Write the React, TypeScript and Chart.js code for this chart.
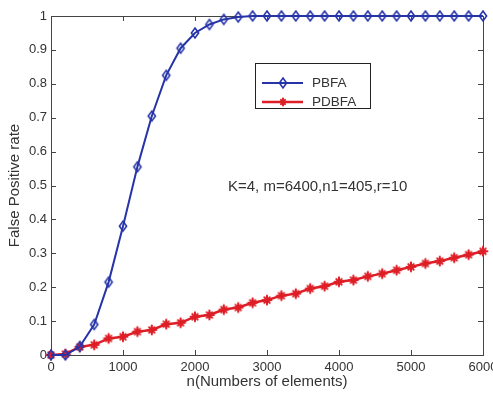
import React, { useEffect, useRef } from 'react';
import { Chart, registerables } from 'chart.js';

Chart.register(...registerables);

const nValues = [
  0, 200, 400, 600, 800, 1000, 1200, 1400, 1600, 1800, 2000, 2200, 2400, 2600, 2800, 3000,
  3200, 3400, 3600, 3800, 4000, 4200, 4400, 4600, 4800, 5000, 5200, 5400, 5600, 5800, 6000,
];
const pbfa = [
  0, 0, 0.025, 0.09, 0.215, 0.38, 0.555, 0.705, 0.825, 0.905, 0.95, 0.975, 0.99, 0.997, 1, 1,
  1, 1, 1, 1, 1, 1, 1, 1, 1, 1, 1, 1, 1, 1, 1,
];
const pdbfa = [
  0, 0.003, 0.024, 0.03, 0.049, 0.054, 0.069, 0.074, 0.091, 0.095, 0.113, 0.118, 0.134, 0.14,
  0.154, 0.162, 0.175, 0.181, 0.196, 0.203, 0.216, 0.221, 0.232, 0.24, 0.25, 0.26, 0.27, 0.277,
  0.287, 0.296, 0.306,
];
const xTicks = [0, 1000, 2000, 3000, 4000, 5000, 6000];
const yTicks = [0, 0.1, 0.2, 0.3, 0.4, 0.5, 0.6, 0.7, 0.8, 0.9, 1];
const seriesNames = ['PBFA', 'PDBFA'];
const xTitle = 'n(Numbers of elements)';
const yTitle = 'False Positive rate';
const annotationText = 'K=4, m=6400,n1=405,r=10';

const BLUE = 'rgb(38,52,168)';
const RED = 'rgb(222,30,38)';
const AXIS = '#444';
const TEXT = '#333';
const FONT = '"Liberation Sans", Arial, sans-serif';

function drawDiamond(ctx: CanvasRenderingContext2D, x: number, y: number, color: string) {
  ctx.save();
  ctx.strokeStyle = color;
  ctx.lineWidth = 1.6;
  ctx.beginPath();
  ctx.moveTo(x, y - 5);
  ctx.lineTo(x + 3.6, y);
  ctx.lineTo(x, y + 5);
  ctx.lineTo(x - 3.6, y);
  ctx.closePath();
  ctx.stroke();
  ctx.restore();
}

function drawStar(ctx: CanvasRenderingContext2D, x: number, y: number, r: number, color: string) {
  ctx.save();
  ctx.strokeStyle = color;
  ctx.lineWidth = 2;
  ctx.lineCap = 'round';
  ctx.beginPath();
  ctx.moveTo(x - r, y);
  ctx.lineTo(x + r, y);
  ctx.moveTo(x, y - r);
  ctx.lineTo(x, y + r);
  const d = r * 0.6;
  ctx.moveTo(x - d, y - d);
  ctx.lineTo(x + d, y + d);
  ctx.moveTo(x - d, y + d);
  ctx.lineTo(x + d, y - d);
  ctx.stroke();
  ctx.restore();
}

function makeMarker(kind: 'diamond' | 'star', color: string): HTMLCanvasElement {
  const c = document.createElement('canvas');
  c.width = 14;
  c.height = 14;
  const g = c.getContext('2d') as CanvasRenderingContext2D;
  if (kind === 'diamond') drawDiamond(g, 7, 7, color);
  else drawStar(g, 7, 7, 4.5, color);
  return c;
}

const framePlugin = {
  id: 'matlabFrame',
  beforeDatasetsDraw(chart: any) {
    const { ctx, chartArea, scales } = chart;
    const { left, right, top, bottom } = chartArea;
    const tl = 5;
    ctx.save();
    ctx.strokeStyle = AXIS;
    ctx.lineWidth = 1;
    ctx.strokeRect(left + 0.5, top + 0.5, right - left, bottom - top);
    ctx.beginPath();
    xTicks.forEach((v) => {
      const px = Math.round(scales.x.getPixelForValue(v)) + 0.5;
      ctx.moveTo(px, bottom);
      ctx.lineTo(px, bottom - tl);
      ctx.moveTo(px, top);
      ctx.lineTo(px, top + tl);
    });
    yTicks.forEach((v) => {
      const py = Math.round(scales.y.getPixelForValue(v)) + 0.5;
      ctx.moveTo(left, py);
      ctx.lineTo(left + tl, py);
      ctx.moveTo(right, py);
      ctx.lineTo(right - tl, py);
    });
    ctx.stroke();
    ctx.restore();
  },
  afterDatasetsDraw(chart: any) {
    const { ctx, chartArea } = chart;
    const { left, top } = chartArea;
    const bx = left + 204;
    const by = top + 47;
    const bw = 115;
    const bh = 45;
    ctx.save();
    ctx.fillStyle = '#fff';
    ctx.fillRect(bx, by, bw, bh);
    ctx.strokeStyle = '#222';
    ctx.lineWidth = 1;
    ctx.strokeRect(bx + 0.5, by + 0.5, bw, bh);
    const rows = [
      { name: seriesNames[0], color: BLUE, y: by + 20, marker: 'diamond' },
      { name: seriesNames[1], color: RED, y: by + 39, marker: 'star' },
    ];
    ctx.font = `13.5px ${FONT}`;
    ctx.textBaseline = 'middle';
    ctx.textAlign = 'left';
    rows.forEach((r) => {
      ctx.strokeStyle = r.color;
      ctx.lineWidth = r.marker === 'diamond' ? 2 : 2.5;
      ctx.beginPath();
      ctx.moveTo(bx + 7, r.y);
      ctx.lineTo(bx + 48, r.y);
      ctx.stroke();
      if (r.marker === 'diamond') drawDiamond(ctx, bx + 28, r.y, r.color);
      else drawStar(ctx, bx + 28, r.y, 3.5, r.color);
      ctx.fillStyle = TEXT;
      ctx.fillText(r.name, bx + 57, r.y + 0.5);
    });
    ctx.fillStyle = TEXT;
    ctx.font = `15px ${FONT}`;
    ctx.textBaseline = 'middle';
    ctx.fillText(annotationText, left + 177, top + 171);
    ctx.restore();
  },
};

export default function App() {
  const canvasRef = useRef<HTMLCanvasElement | null>(null);

  useEffect(() => {
    const canvas = canvasRef.current;
    if (!canvas) return;
    const diamond = makeMarker('diamond', BLUE);
    const star = makeMarker('star', RED);
    const chart = new Chart(canvas, {
      type: 'line',
      data: {
        datasets: [
          {
            label: seriesNames[0],
            data: nValues.map((x, i) => ({ x, y: pbfa[i] })),
            borderColor: BLUE,
            borderWidth: 2,
            pointStyle: diamond,
            pointRadius: 5,
            clip: false,
            tension: 0,
          },
          {
            label: seriesNames[1],
            data: nValues.map((x, i) => ({ x, y: pdbfa[i] })),
            borderColor: RED,
            borderWidth: 2.5,
            pointStyle: star,
            pointRadius: 5,
            clip: false,
            tension: 0,
          },
        ] as any,
      },
      options: {
        animation: false,
        responsive: false,
        maintainAspectRatio: false,
        layout: { padding: { left: 0, top: 16, right: 10, bottom: 3 } },
        plugins: {
          legend: { display: false },
          tooltip: { enabled: false },
        },
        scales: {
          x: {
            type: 'linear',
            min: 0,
            max: 6000,
            afterFit: (s: any) => {
              s.height = 36;
              s.paddingLeft = 0;
              s.paddingRight = 0;
            },
            afterBuildTicks: (s: any) => {
              s.ticks = xTicks.map((v) => ({ value: v }));
            },
            grid: { display: false, drawTicks: false, tickLength: 0 },
            border: { display: false },
            ticks: {
              color: TEXT,
              padding: 5,
              font: { family: FONT, size: 13 },
              callback: (v: any) => String(v),
              maxRotation: 0,
              autoSkip: false,
            },
            title: {
              display: true,
              text: xTitle,
              color: TEXT,
              font: { family: FONT, size: 15 },
              padding: { top: 0, bottom: 0 },
            },
          },
          y: {
            type: 'linear',
            min: 0,
            max: 1,
            afterFit: (s: any) => {
              s.width = 51;
              s.paddingTop = 0;
              s.paddingBottom = 0;
            },
            afterBuildTicks: (s: any) => {
              s.ticks = yTicks.map((v) => ({ value: v }));
            },
            grid: { display: false, drawTicks: false, tickLength: 0 },
            border: { display: false },
            ticks: {
              color: TEXT,
              padding: 4,
              font: { family: FONT, size: 13 },
              callback: (v: any) => String(Number(Number(v).toFixed(1))),
              autoSkip: false,
            },
            title: {
              display: true,
              text: yTitle,
              color: TEXT,
              font: { family: FONT, size: 15 },
              padding: { top: 6, bottom: 0 },
            },
          },
        },
      } as any,
      plugins: [framePlugin],
    });
    return () => chart.destroy();
  }, []);

  return (
    <div style={{ position: 'fixed', left: 0, top: 0, width: 493, height: 394, background: '#fff' }}>
      <canvas ref={canvasRef} width={493} height={394} style={{ width: 493, height: 394, display: 'block' }} />
    </div>
  );
}
